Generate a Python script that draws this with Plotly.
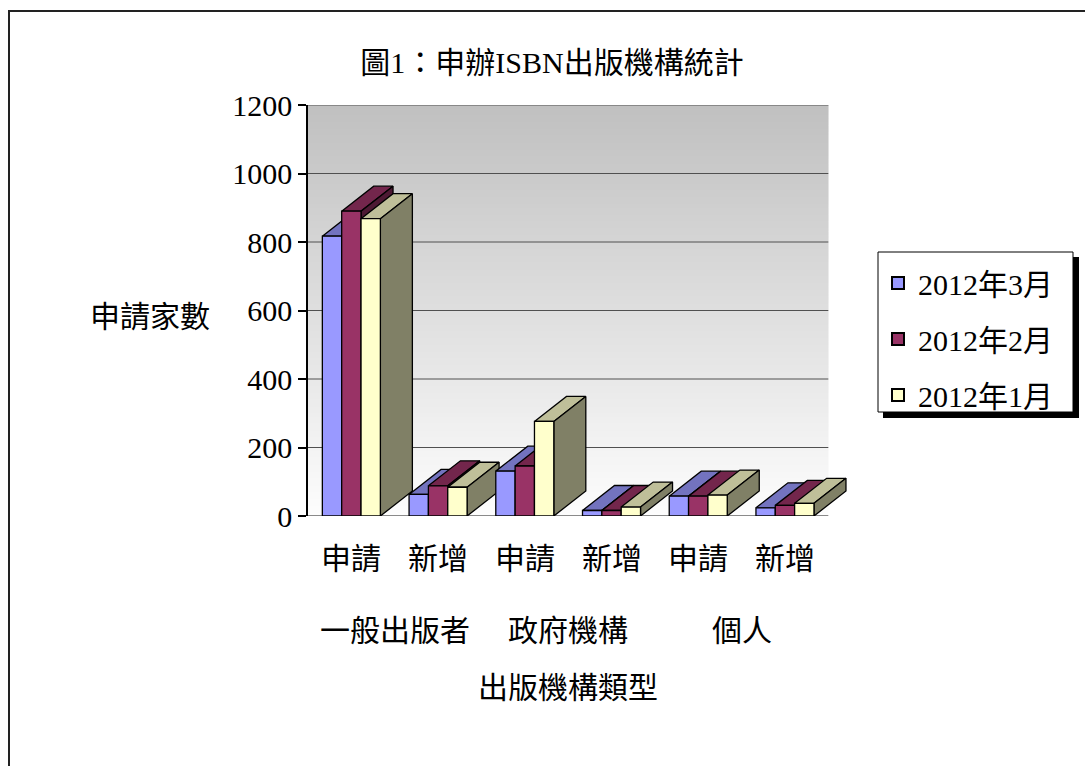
import plotly.graph_objects as go

# ---------------- data ----------------
categories = ["申請", "新增", "申請", "新增", "申請", "新增"]
groups = ["一般出版者", "政府機構", "個人"]
series_names = ["2012年3月", "2012年2月", "2012年1月"]
mar_2012 = [817, 63, 131, 16, 58, 24]
feb_2012 = [890, 88, 146, 16, 58, 31]
jan_2012 = [868, 84, 276, 26, 61, 37]
y_ticks = [0, 200, 400, 600, 800, 1000, 1200]
title_text = "圖1：申辦ISBN出版機構統計"
y_title = "申請家數"
x_title = "出版機構類型"

series_values = [mar_2012, feb_2012, jan_2012]
front_colors = ["#9999FF", "#993366", "#FFFFCC"]
top_colors = ["#7373BF", "#73264C", "#BFBF99"]
side_colors = ["#4D4D80", "#4D1933", "#808066"]

# ---------------- geometry / layout ----------------
W, H = 1085, 766
L, R, T, B = 308, 235, 105, 250
plot_w = W - L - R
plot_h = H - T - B
x_range = [-0.5, 5.75]
y_range = [0, 1200]
bar_w = 0.223
offsets = [-1.5 * bar_w, -0.5 * bar_w, 0.5 * bar_w]
depth_x = 32 / (plot_w / (x_range[1] - x_range[0]))  # category units
depth_y = 25 / (plot_h / (y_range[1] - y_range[0]))  # value units


def pxx(px):
    return (px - L) / plot_w


def pxy(py):
    return (H - B - py) / plot_h


FONT = "'Liberation Serif', 'Times New Roman', 'Noto Sans CJK TC', serif"

fig = go.Figure()

# 3D top and side faces (drawn in painter's order, left to right)
for i in range(len(categories)):
    for s in range(3):
        v = series_values[s][i]
        x0 = i + offsets[s]
        x1 = x0 + bar_w
        fig.add_trace(go.Scatter(
            x=[x0, x1, x1 + depth_x, x0 + depth_x, x0],
            y=[v, v, v + depth_y, v + depth_y, v],
            mode="lines", fill="toself", fillcolor=top_colors[s],
            line=dict(color="black", width=1.3),
            hoverinfo="skip", showlegend=False, xaxis="x", yaxis="y"))
        fig.add_trace(go.Scatter(
            x=[x1, x1, x1 + depth_x, x1 + depth_x, x1],
            y=[0, v, v + depth_y, depth_y, 0],
            mode="lines", fill="toself", fillcolor=side_colors[s],
            line=dict(color="black", width=1.3),
            hoverinfo="skip", showlegend=False, xaxis="x", yaxis="y"))

# front faces as real bars on an overlaid subplot (drawn on top)
for s in range(3):
    fig.add_trace(go.Bar(
        x=list(range(len(categories))), y=series_values[s],
        width=bar_w, offset=offsets[s],
        name=series_names[s],
        marker=dict(color=front_colors[s], line=dict(color="black", width=1.3)),
        xaxis="x2", yaxis="y2", legendgroup=series_names[s]))

shapes = []
# gradient back wall (overlapping strips to avoid seams)
n_strips = 120
step = (y_range[1] - y_range[0]) / n_strips
for k in range(n_strips):
    y0 = y_range[0] + step * k
    y1 = min(y_range[1], y0 + step * 2)
    f = (k + 0.5) / n_strips
    g = int(round(253 - (253 - 192) * f))
    shapes.append(dict(type="rect", xref="x", yref="y", x0=-0.5, x1=5.5,
                       y0=y0, y1=y1, fillcolor=f"rgb({g},{g},{g})",
                       line=dict(width=0), layer="below"))
# gridlines
for t in y_ticks[1:]:
    shapes.append(dict(type="line", xref="x", yref="y", x0=-0.5, x1=5.5,
                       y0=t, y1=t, line=dict(color="#505050", width=1),
                       layer="below"))
shapes.append(dict(type="line", xref="x", yref="y", x0=-0.5, x1=5.5,
                   y0=0, y1=0, line=dict(color="#8a8a8a", width=2),
                   layer="below"))
# legend box with shadow
shapes.append(dict(type="rect", xref="paper", yref="paper",
                   x0=pxx(883), x1=pxx(1079), y0=pxy(418), y1=pxy(257),
                   fillcolor="black", line=dict(width=0), layer="above"))
shapes.append(dict(type="rect", xref="paper", yref="paper",
                   x0=pxx(878), x1=pxx(1073), y0=pxy(412), y1=pxy(252),
                   fillcolor="white", line=dict(color="black", width=1),
                   layer="above"))
# outer chart border
shapes.append(dict(type="rect", xref="paper", yref="paper",
                   x0=pxx(9), x1=pxx(W + 20), y0=pxy(H + 20), y1=pxy(11),
                   line=dict(color="#222222", width=2), layer="below"))

annotations = []
for i, c in enumerate(categories):
    annotations.append(dict(text=c, x=i, xref="x", y=pxy(558), yref="paper",
                            showarrow=False, xanchor="center", yanchor="middle",
                            font=dict(size=30, family=FONT, color="black")))
for g_i, g in enumerate(groups):
    annotations.append(dict(text=g, x=2 * g_i + 0.5, xref="x", y=pxy(630),
                            yref="paper", showarrow=False, xanchor="center",
                            yanchor="middle",
                            font=dict(size=30, family=FONT, color="black")))
annotations.append(dict(text=x_title, x=2.5, xref="x", y=pxy(687), yref="paper",
                        showarrow=False, xanchor="center", yanchor="middle",
                        font=dict(size=30, family=FONT, color="black")))
annotations.append(dict(text=y_title, x=pxx(150), xref="paper", y=pxy(316),
                        yref="paper", showarrow=False, xanchor="center",
                        yanchor="middle",
                        font=dict(size=30, family=FONT, color="black")))

fig.update_layout(
    width=W, height=H,
    margin=dict(l=L, r=R, t=T, b=B, pad=0),
    paper_bgcolor="white", plot_bgcolor="rgba(0,0,0,0)",
    font=dict(family=FONT, size=30, color="black"),
    title=dict(text=title_text, x=552 / W, xref="container", xanchor="center",
               y=1 - 62 / H, yref="container", yanchor="middle",
               font=dict(size=30, family=FONT, color="black")),
    xaxis=dict(range=x_range, visible=False, fixedrange=True),
    yaxis=dict(range=y_range, tickvals=y_ticks, showgrid=False, zeroline=False,
               showline=True, linecolor="black", linewidth=1.5,
               ticks="outside", ticklen=8, tickcolor="black", tickwidth=1.5,
               tickfont=dict(size=30, family=FONT, color="black"),
               fixedrange=True),
    xaxis2=dict(range=x_range, overlaying="x", visible=False, fixedrange=True),
    yaxis2=dict(range=y_range, overlaying="y", visible=False, fixedrange=True),
    barmode="overlay",
    showlegend=True,
    legend=dict(x=pxx(878), y=pxy(257), xanchor="left", yanchor="top",
                xref="paper", yref="paper",
                bgcolor="rgba(0,0,0,0)", borderwidth=0,
                font=dict(size=30, family=FONT, color="black"),
                traceorder="grouped", tracegroupgap=14,
                itemsizing="constant"),
    shapes=shapes,
    annotations=annotations,
)

fig.write_html("out.html",
               config={"displayModeBar": False},
               post_script="document.body.style.margin='0';document.body.style.overflow='hidden';")
